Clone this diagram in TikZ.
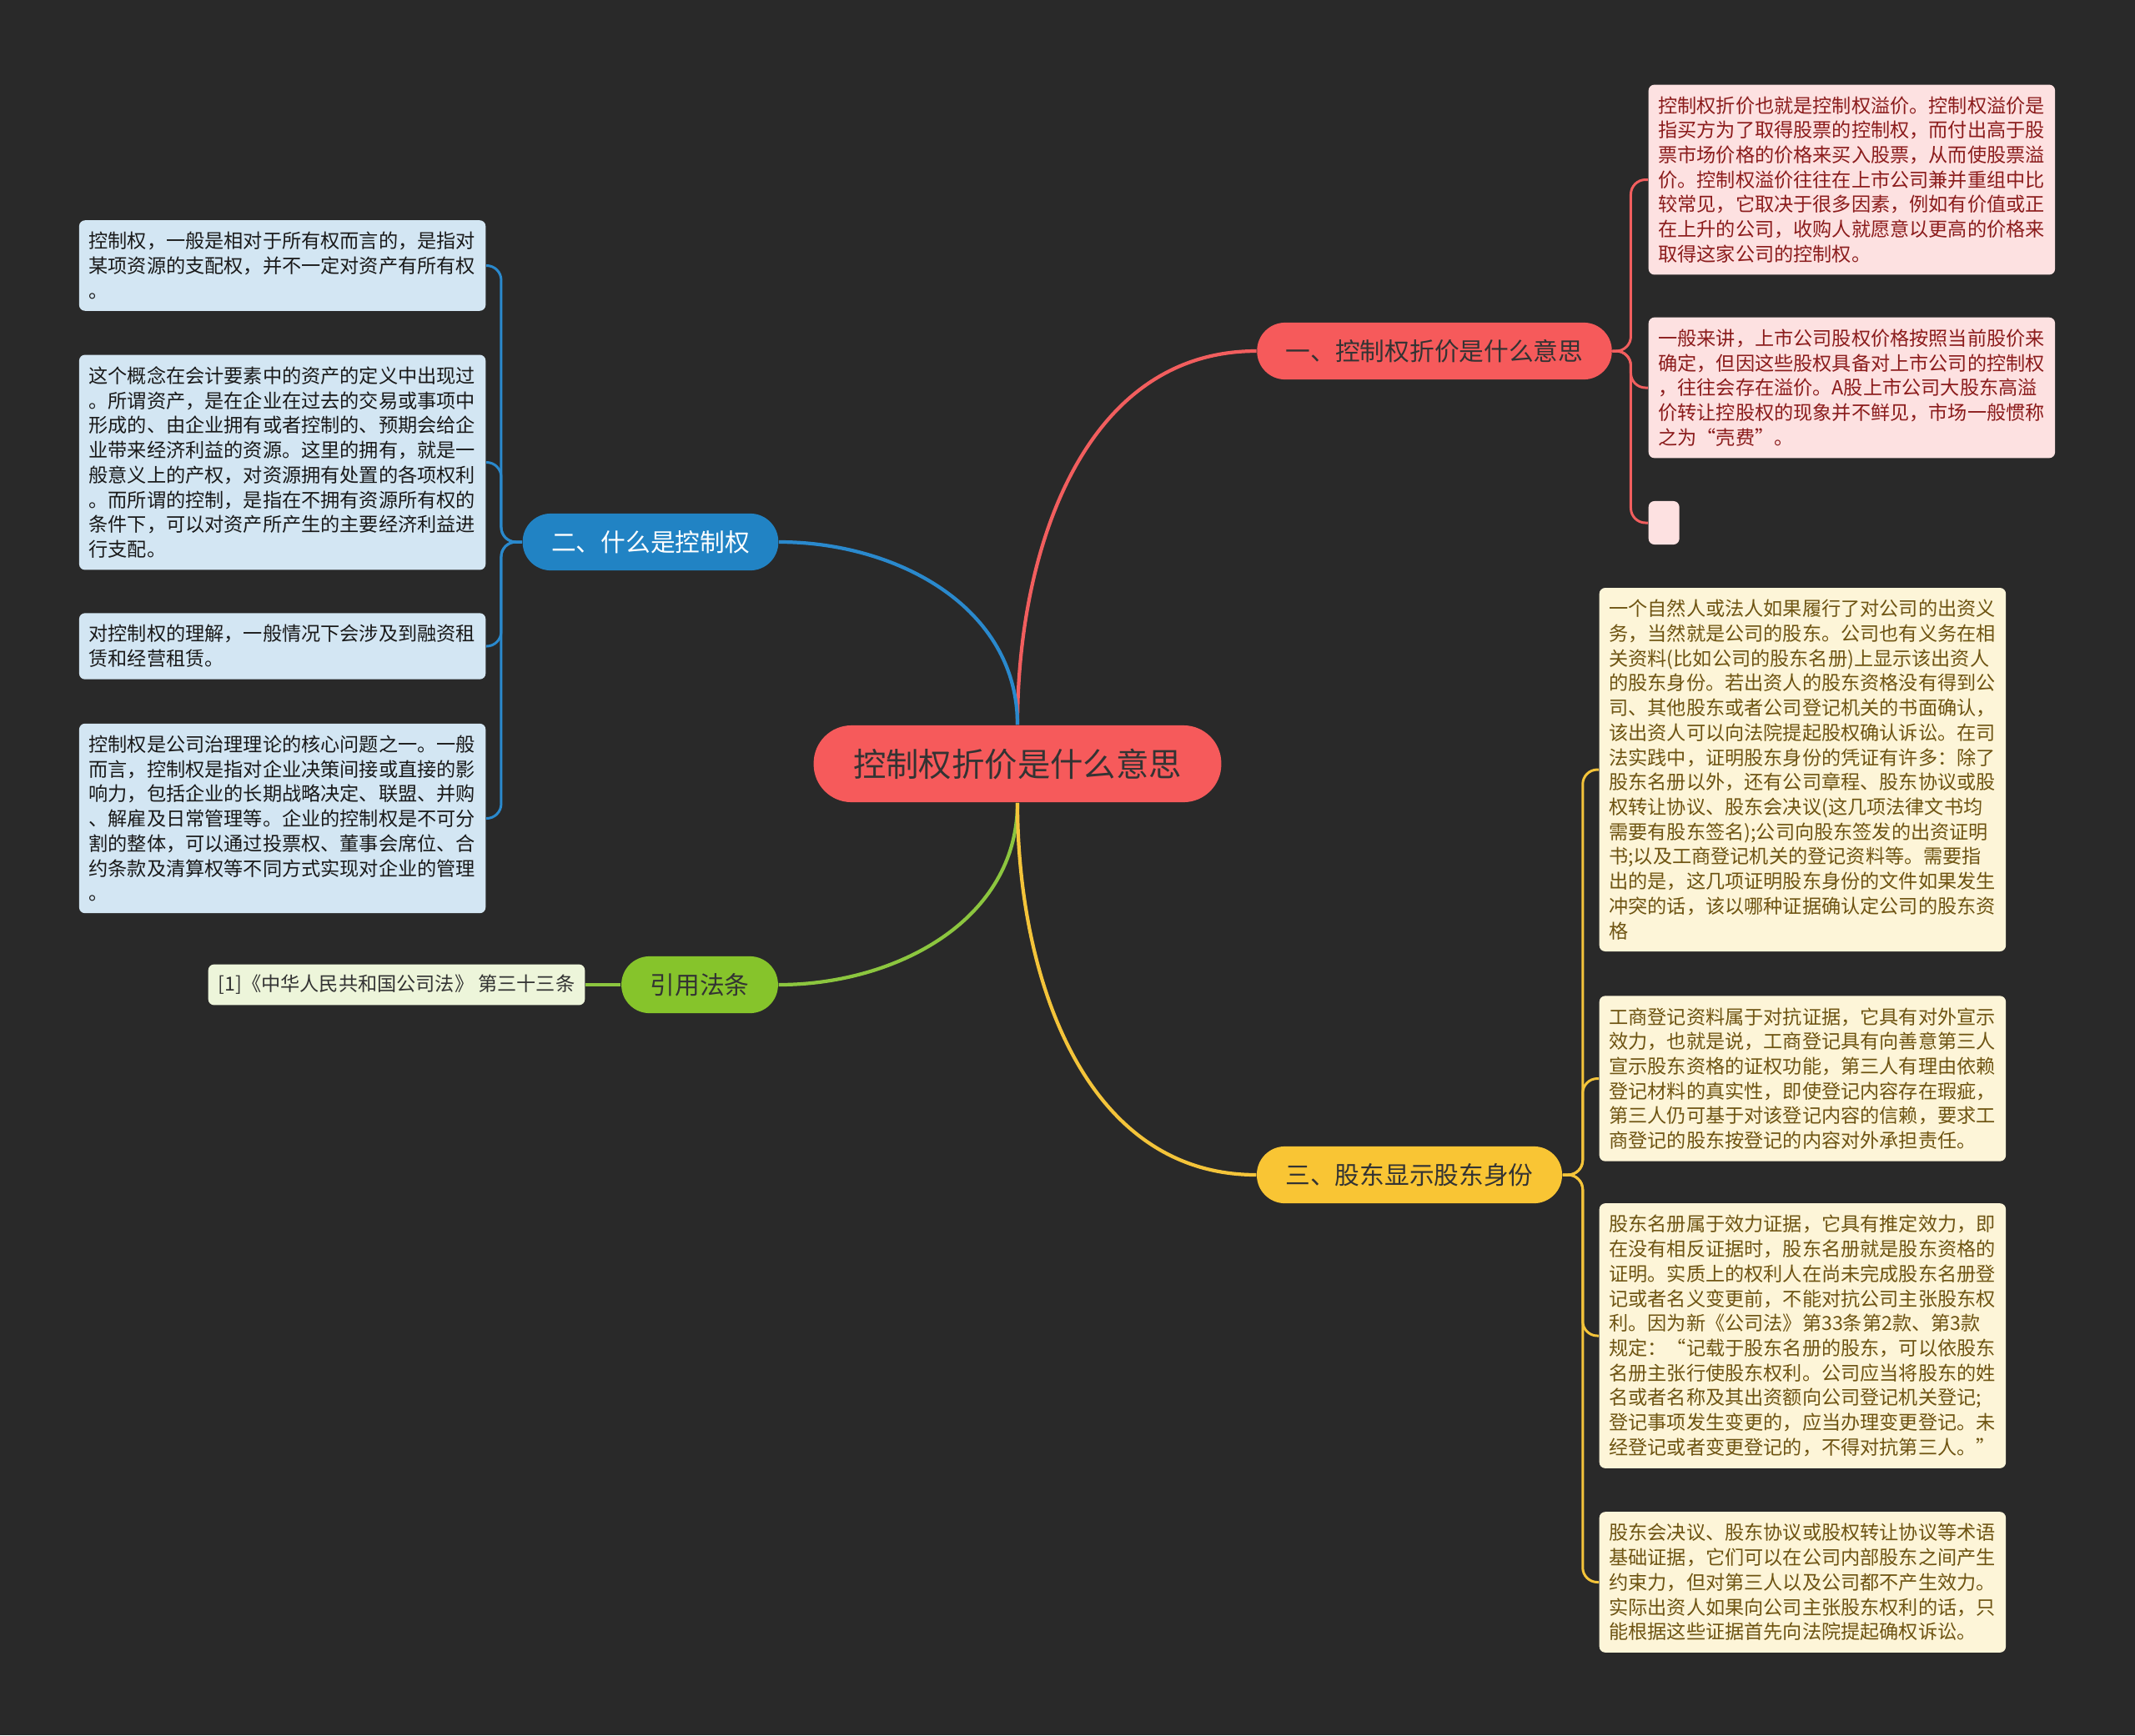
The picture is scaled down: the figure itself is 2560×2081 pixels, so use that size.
\documentclass[tikz,border=0pt]{standalone}
\usepackage{fontspec}
\setmainfont{Noto Sans CJK SC}
\definecolor{bgdark}{HTML}{292929}
\definecolor{rootred}{HTML}{F65A5B}
\definecolor{redline}{HTML}{F25E5E}
\definecolor{redleaf}{HTML}{FDE1E1}
\definecolor{redtext}{HTML}{8B1C1C}
\definecolor{bluefill}{HTML}{2183C4}
\definecolor{blueline}{HTML}{2A89CD}
\definecolor{blueleaf}{HTML}{D3E6F3}
\definecolor{greenfill}{HTML}{86C42B}
\definecolor{greenline}{HTML}{8CC63F}
\definecolor{greenleaf}{HTML}{EDF5DA}
\definecolor{yellowfill}{HTML}{F9C534}
\definecolor{yellowline}{HTML}{F4C43A}
\definecolor{yellowleaf}{HTML}{FDF5D8}
\definecolor{yellowtext}{HTML}{6E5412}
\begin{document}
\begin{tikzpicture}[x=0.01cm, y=0.01cm,
        rootnode/.style={fill=rootred, text=black!80, rounded corners=12.9pt, minimum height=26.2pt, inner xsep=13.5pt, inner ysep=0pt, font=\fontsize{11.2pt}{13pt}\selectfont},
        branch/.style={rounded corners=9.6pt, minimum height=19.4pt, inner xsep=9.8pt, inner ysep=0pt, font=\fontsize{8.45pt}{10pt}\selectfont},
        leaf/.style={rounded corners=2pt, inner xsep=3.3pt, inner ysep=4pt, text width=132pt, align=left, font=\fontsize{6.59pt}{8.45pt}\selectfont},
        mainline/.style={line width=1.2pt},
        subline/.style={line width=0.85pt, rounded corners=5pt}]
        \fill[bgdark] (0,0) rectangle (2560,-2081);
        \useasboundingbox (0,0) rectangle (2560,-2081);

        \node[rootnode] (root) at (1220,-916) {控制权折价是什么意思};
        \node[branch, fill=rootred, text=black!80] (b1) at (1720,-421) {一、控制权折价是什么意思};
        \node[branch, fill=bluefill, text=white] (b2) at (780,-650) {二、什么是控制权};
        \node[branch, fill=greenfill, text=black!80] (b3) at (839,-1181) {引用法条};
        \node[branch, fill=yellowfill, text=black!80] (b4) at (1690,-1409) {三、股东显示股东身份};

        \node[leaf, fill=redleaf, text=redtext, anchor=west] (r1) at (1976,-215.5) {控制权折价也就是控制权溢价。控制权溢价是\\指买方为了取得股票的控制权，而付出高于股\\票市场价格的价格来买入股票，从而使股票溢\\价。控制权溢价往往在上市公司兼并重组中比\\较常见，它取决于很多因素，例如有价值或正\\在上升的公司，收购人就愿意以更高的价格来\\取得这家公司的控制权。};
        \node[leaf, fill=redleaf, text=redtext, anchor=west] (r2) at (1976,-465) {一般来讲，上市公司股权价格按照当前股价来\\确定，但因这些股权具备对上市公司的控制权\\，往往会存在溢价。A股上市公司大股东高溢\\价转让控股权的现象并不鲜见，市场一般惯称\\之为“壳费”。};
        \node[fill=redleaf, rounded corners=2pt, minimum width=10.5pt, minimum height=14.8pt, inner sep=0pt, anchor=west] (r3) at (1976,-627) {};

        \node[leaf, fill=blueleaf, text=black!90, anchor=east] (l1) at (583,-318.5) {控制权，一般是相对于所有权而言的，是指对\\某项资源的支配权，并不一定对资产有所有权\\。};
        \node[leaf, fill=blueleaf, text=black!90, anchor=east] (l2) at (583,-554.5) {这个概念在会计要素中的资产的定义中出现过\\。所谓资产，是在企业在过去的交易或事项中\\形成的、由企业拥有或者控制的、预期会给企\\业带来经济利益的资源。这里的拥有，就是一\\般意义上的产权，对资源拥有处置的各项权利\\。而所谓的控制，是指在不拥有资源所有权的\\条件下，可以对资产所产生的主要经济利益进\\行支配。};
        \node[leaf, fill=blueleaf, text=black!90, anchor=east] (l3) at (583,-775) {对控制权的理解，一般情况下会涉及到融资租\\赁和经营租赁。};
        \node[leaf, fill=blueleaf, text=black!90, anchor=east] (l4) at (583,-981.5) {控制权是公司治理理论的核心问题之一。一般\\而言，控制权是指对企业决策间接或直接的影\\响力，包括企业的长期战略决定、联盟、并购\\、解雇及日常管理等。企业的控制权是不可分\\割的整体，可以通过投票权、董事会席位、合\\约条款及清算权等不同方式实现对企业的管理\\。};

        \node[fill=greenleaf, text=black!80, rounded corners=2pt, inner xsep=3.4pt, inner ysep=0pt, minimum height=13.9pt, font=\fontsize{6.59pt}{8.45pt}\selectfont, anchor=east] (g1) at (702,-1181) {[1]《中华人民共和国公司法》 第三十三条};

        \node[leaf, fill=yellowleaf, text=yellowtext, anchor=west] (y1) at (1917,-923) {一个自然人或法人如果履行了对公司的出资义\\务，当然就是公司的股东。公司也有义务在相\\关资料(比如公司的股东名册)上显示该出资人\\的股东身份。若出资人的股东资格没有得到公\\司、其他股东或者公司登记机关的书面确认，\\该出资人可以向法院提起股权确认诉讼。在司\\法实践中，证明股东身份的凭证有许多：除了\\股东名册以外，还有公司章程、股东协议或股\\权转让协议、股东会决议(这几项法律文书均\\需要有股东签名);公司向股东签发的出资证明\\书;以及工商登记机关的登记资料等。需要指\\出的是，这几项证明股东身份的文件如果发生\\冲突的话，该以哪种证据确认定公司的股东资\\格};
        \node[leaf, fill=yellowleaf, text=yellowtext, anchor=west] (y2) at (1917,-1293.5) {工商登记资料属于对抗证据，它具有对外宣示\\效力，也就是说，工商登记具有向善意第三人\\宣示股东资格的证权功能，第三人有理由依赖\\登记材料的真实性，即使登记内容存在瑕疵，\\第三人仍可基于对该登记内容的信赖，要求工\\商登记的股东按登记的内容对外承担责任。};
        \node[leaf, fill=yellowleaf, text=yellowtext, anchor=west] (y3) at (1917,-1602) {股东名册属于效力证据，它具有推定效力，即\\在没有相反证据时，股东名册就是股东资格的\\证明。实质上的权利人在尚未完成股东名册登\\记或者名义变更前，不能对抗公司主张股东权\\利。因为新《公司法》第33条第2款、第3款\\规定：“记载于股东名册的股东，可以依股东\\名册主张行使股东权利。公司应当将股东的姓\\名或者名称及其出资额向公司登记机关登记;\\登记事项发生变更的，应当办理变更登记。未\\经登记或者变更登记的，不得对抗第三人。”};
        \node[leaf, fill=yellowleaf, text=yellowtext, anchor=west] (y4) at (1917,-1897.5) {股东会决议、股东协议或股权转让协议等术语\\基础证据，它们可以在公司内部股东之间产生\\约束力，但对第三人以及公司都不产生效力。\\实际出资人如果向公司主张股东权利的话，只\\能根据这些证据首先向法院提起确权诉讼。};

        \draw[mainline, redline] (root.north) to[out=90, in=180] (b1.west);
        \draw[mainline, blueline] (root.north) to[out=90, in=0] (b2.east);
        \draw[mainline, greenline] (root.south) to[out=-90, in=0] (b3.east);
        \draw[mainline, yellowline] (root.south) to[out=-90, in=180] (b4.west);

        \foreach \c in {r1, r2, r3}{
            \draw[subline, redline] (b1.east) -- ++(22,0) |- (\c.west);
        }
        \foreach \c in {l1, l2, l3, l4}{
            \draw[subline, blueline] (b2.west) -- ++(-25,0) |- (\c.east);
        }
        \draw[subline, greenline, line width=1.2pt] (b3.west) -- (g1.east);
        \foreach \c in {y1, y2, y3, y4}{
            \draw[subline, yellowline] (b4.east) -- ++(24,0) |- (\c.west);
        }
\end{tikzpicture}
\end{document}
